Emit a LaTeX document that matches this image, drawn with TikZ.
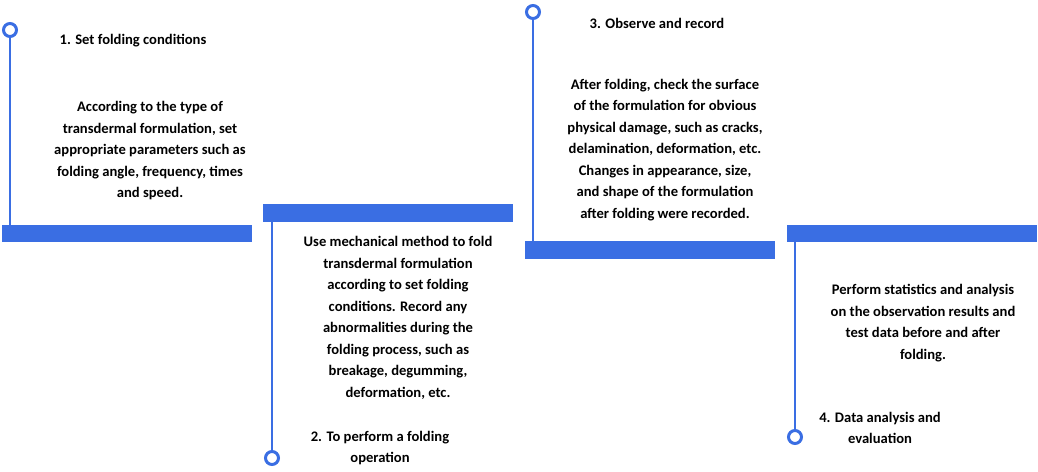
\documentclass[tikz,border=0pt]{standalone}
\usepackage{fontspec}
\setmainfont{Carlito}
\definecolor{bl}{HTML}{3A6EE3}
\begin{document}
\begin{tikzpicture}[x=1pt,y=-1pt,
 bar/.style={fill=bl,draw=none},
 vline/.style={draw=bl,line width=2.4pt},
 ring/.style={circle,draw=bl,line width=3pt,fill=white,minimum size=13pt,inner sep=0pt},
 txt/.style={font=\bfseries\fontsize{14.6}{21.5}\selectfont,align=center,text=black,inner sep=0pt}]
\useasboundingbox (0,0) rectangle (1038,471);
\fill[bar] (2,225) rectangle (252,242);
\fill[bar] (263,204) rectangle (513,222);
\fill[bar] (525,241) rectangle (775,259);
\fill[bar] (787,225) rectangle (1037,242);
\node[ring] (c1) at (10,30) {};
\node[ring] (c2) at (272,458) {};
\node[ring] (c3) at (533,12) {};
\node[ring] (c4) at (795,437) {};
\coordinate (b1) at (10,225);
\coordinate (b2) at (272,222);
\coordinate (b3) at (533,241);
\coordinate (b4) at (795,242);
\draw[vline] (c1) -- (b1);
\draw[vline] (c2) -- (b2);
\draw[vline] (c3) -- (b3);
\draw[vline] (c4) -- (b4);
\node[txt] (t1) at (133,41) {1. Set folding conditions};
\node[txt] (d1) at (150,151) {According to the type of\\transdermal formulation, set\\appropriate parameters such as\\folding angle, frequency, times\\and speed.};
\node[txt] (t2) at (380,448) {2. To perform a folding\\operation};
\node[txt] (d2) at (398,318) {Use mechanical method to fold\\transdermal formulation\\according to set folding\\conditions. Record any\\abnormalities during the\\folding process, such as\\breakage, degumming,\\deformation, etc.};
\node[txt] (t3) at (657,23) {3. Observe and record};
\node[txt] (d3) at (665,150) {After folding, check the surface\\of the formulation for obvious\\physical damage, such as cracks,\\delamination, deformation, etc.\\Changes in appearance, size,\\and shape of the formulation\\after folding were recorded.};
\node[txt] (d4) at (923,323) {Perform statistics and analysis\\on the observation results and\\test data before and after\\folding.};
\node[txt] (t4) at (880,428) {4. Data analysis and\\evaluation};
\end{tikzpicture}
\end{document}
